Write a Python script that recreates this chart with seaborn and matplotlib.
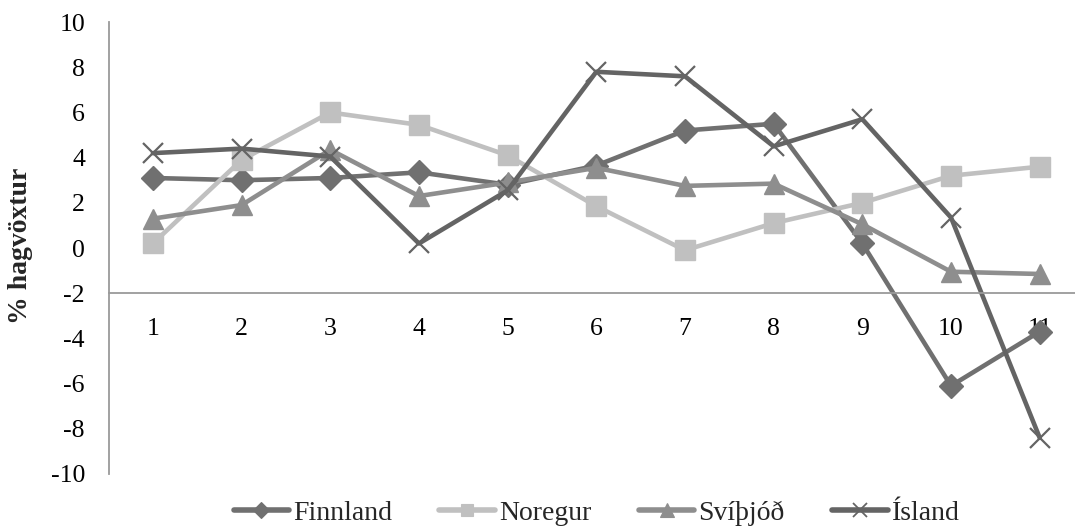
import matplotlib
matplotlib.use("Agg")
import matplotlib.pyplot as plt
from matplotlib.lines import Line2D
import seaborn as sns
import pandas as pd

# Annual GDP growth (%) by period index
periods = [1, 2, 3, 4, 5, 6, 7, 8, 9, 10, 11]
finnland = [3.1, 3.0, 3.1, 3.35, 2.8, 3.65, 5.2, 5.5, 0.2, -6.1, -3.7]
noregur = [0.2, 3.9, 6.0, 5.45, 4.1, 1.85, -0.1, 1.1, 2.0, 3.2, 3.6]
svithjod = [1.3, 1.9, 4.35, 2.3, 2.9, 3.55, 2.75, 2.85, 1.05, -1.05, -1.15]
island = [4.2, 4.4, 4.05, 0.2, 2.55, 7.8, 7.6, 4.5, 5.7, 1.35, -8.4]

series_names = ["Finnland", "Noregur", "Svíþjóð", "Ísland"]
series_values = [finnland, noregur, svithjod, island]
y_ticks = [-10, -8, -6, -4, -2, 0, 2, 4, 6, 8, 10]

sns.set_theme(style="white")
plt.rcParams["font.family"] = ["Liberation Serif", "DejaVu Serif"]

styles = {
    "Finnland": dict(color="#707070", marker="D", ms=12, mew=1),
    "Noregur": dict(color="#c0c0c0", marker="s", ms=14, mew=1),
    "Svíþjóð": dict(color="#8e8e8e", marker="^", ms=15, mew=1),
    "Ísland": dict(color="#646464", marker="x", ms=15, mew=1.6),
}

fig = plt.figure(figsize=(10.75, 5.26), dpi=100)
ax = fig.add_axes([0.101, 0.099, 0.9074, 0.859])

for name, vals in zip(series_names, series_values):
    st = styles[name]
    df = pd.DataFrame({"period": periods, "value": vals})
    sns.lineplot(data=df, x="period", y="value", ax=ax, color=st["color"],
                 marker=st["marker"], markersize=st["ms"],
                 markeredgecolor=st["color"], markeredgewidth=st["mew"],
                 markerfacecolor=st["color"], linewidth=3.3, legend=False,
                 clip_on=False)

ax.set_xlim(0.5, 11.5)
ax.set_ylim(-10, 10)
ax.set_xticks(periods)
ax.set_xticklabels([str(p) for p in periods])
ax.set_yticks(y_ticks)
ax.set_yticklabels([str(t) for t in y_ticks])

ax.spines["top"].set_visible(False)
ax.spines["right"].set_visible(False)
ax.spines["left"].set_color("#9a9a9a")
ax.spines["left"].set_linewidth(1.3)
ax.spines["bottom"].set_position(("data", -2))
ax.spines["bottom"].set_color("#9a9a9a")
ax.spines["bottom"].set_linewidth(1.3)

ax.tick_params(axis="x", length=0, pad=18, labelsize=18.5, colors="black")
ax.tick_params(axis="y", length=0, pad=17, labelsize=18.5, colors="black")

ax.set_xlabel("")
ax.set_ylabel("% hagvöxtur", fontsize=20, fontweight="bold")
ax.yaxis.set_label_coords(-0.0775, 0.505)

handles = []
for name in series_names:
    st = styles[name]
    handles.append(Line2D([], [], color=st["color"], marker=st["marker"],
                          markersize=st["ms"] * 0.65, markerfacecolor=st["color"],
                          markeredgecolor=st["color"], markeredgewidth=st["mew"] * 0.8,
                          linewidth=4))
fig.legend(handles, series_names, loc="center", bbox_to_anchor=(0.555, 0.025),
           ncol=4, frameon=False, fontsize=20, handlelength=2.0,
           handletextpad=0.15, columnspacing=1.7, borderpad=0, borderaxespad=0)

fig.savefig("out.png", dpi=100)
